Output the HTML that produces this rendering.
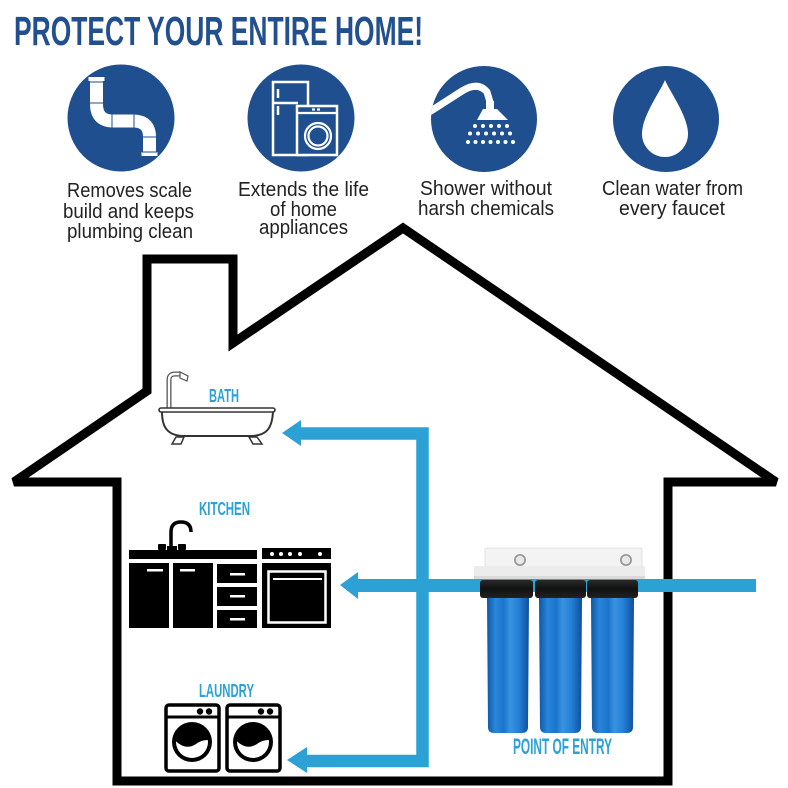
<!DOCTYPE html>
<html><head><meta charset="utf-8"><style>
html,body{margin:0;padding:0;background:#fff;}
svg{display:block;}
</style></head><body>
<svg width="788" height="788" viewBox="0 0 788 788" xmlns="http://www.w3.org/2000/svg">
<defs>
<linearGradient id="hous" x1="0" x2="1" y1="0" y2="0">
<stop offset="0" stop-color="#0d55a6"/>
<stop offset="0.2" stop-color="#2a86d9"/>
<stop offset="0.4" stop-color="#1b74cc"/>
<stop offset="0.55" stop-color="#3a93e0"/>
<stop offset="0.75" stop-color="#2580d6"/>
<stop offset="1" stop-color="#0c4f9e"/>
</linearGradient>
<linearGradient id="cap" x1="0" x2="0" y1="0" y2="1">
<stop offset="0" stop-color="#2a2a2a"/>
<stop offset="0.5" stop-color="#111"/>
<stop offset="1" stop-color="#222"/>
</linearGradient>
<clipPath id="c3"><circle cx="484" cy="119" r="53"/></clipPath>
<clipPath id="w1"><circle cx="192" cy="742" r="16"/></clipPath>
<clipPath id="w2"><circle cx="253" cy="742" r="16"/></clipPath>
</defs>
<rect width="788" height="788" fill="#fff"/>

<!-- Title -->
<text x="14" y="45" font-family="Liberation Sans, sans-serif" font-weight="bold" font-size="41" fill="#22508f" textLength="409" lengthAdjust="spacingAndGlyphs">PROTECT YOUR ENTIRE HOME!</text>

<!-- Icon circles -->
<circle cx="121" cy="118" r="53.5" fill="#1f4f8f"/>
<circle cx="301" cy="118" r="53.5" fill="#1f4f8f"/>
<circle cx="484" cy="119" r="53" fill="#1f4f8f"/>
<circle cx="666" cy="119" r="53" fill="#1f4f8f"/>

<!-- pipe icon -->
<path d="M96.5,78 L96.5,104 Q96.5,121 113,121 L133,121 Q149.5,121 149.5,137 L149.5,156" fill="none" stroke="#fff" stroke-width="13"/>
<rect x="88.5" y="77" width="16" height="4" fill="#fff"/>
<rect x="141.5" y="152" width="16" height="4" fill="#fff"/>
<g stroke="#1f4f8f" stroke-width="1">
<line x1="89" y1="82" x2="104" y2="82"/>
<line x1="89" y1="103" x2="104" y2="103"/>
<line x1="112" y1="114" x2="112" y2="128"/>
<line x1="134" y1="114" x2="134" y2="128"/>
<line x1="143" y1="137" x2="156" y2="137"/>
<line x1="142" y1="152" x2="157" y2="152"/>
</g>

<!-- fridge & washer icon -->
<g fill="none" stroke="#fff" stroke-width="2.5">
<rect x="273" y="82" width="35" height="73"/>
<line x1="273" y1="103" x2="298" y2="103"/>
<line x1="278" y1="89" x2="278" y2="98"/>
<line x1="278" y1="106" x2="278" y2="115"/>
</g>
<rect x="297" y="106" width="40" height="49" fill="#1f4f8f" stroke="#fff" stroke-width="2.5"/>
<g fill="none" stroke="#fff" stroke-width="2.2">
<line x1="297" y1="113" x2="337" y2="113"/>
<line x1="312" y1="109.5" x2="315" y2="109.5"/>
<line x1="317" y1="109.5" x2="320" y2="109.5"/>
<circle cx="318" cy="136" r="13"/>
<circle cx="318" cy="136" r="9.5"/>
</g>

<!-- shower icon -->
<g clip-path="url(#c3)">
<path d="M420,118 L462,91 Q478,81 487,92 L490,102" fill="none" stroke="#fff" stroke-width="7" stroke-linecap="round"/>
</g>
<rect x="486" y="101" width="8" height="9" fill="#fff"/>
<polygon points="483,109 497,109 508,120 477,120" fill="#fff"/>
<g fill="#fff">
<circle cx="475" cy="126" r="2"/><circle cx="483" cy="126" r="2"/><circle cx="491" cy="126" r="2"/><circle cx="499" cy="126" r="2"/><circle cx="507" cy="126" r="2"/>
<circle cx="470" cy="133.5" r="2"/><circle cx="478" cy="133.5" r="2"/><circle cx="486" cy="133.5" r="2"/><circle cx="494" cy="133.5" r="2"/><circle cx="502" cy="133.5" r="2"/><circle cx="510" cy="133.5" r="2"/>
<circle cx="468" cy="142" r="2"/><circle cx="475.5" cy="142" r="2"/><circle cx="483" cy="142" r="2"/><circle cx="490.5" cy="142" r="2"/><circle cx="498" cy="142" r="2"/><circle cx="505.5" cy="142" r="2"/><circle cx="513" cy="142" r="2"/>
</g>

<!-- drop icon -->
<path d="M665,80 C660,92 642,116 642,134 A23,23 0 0 0 688,134 C688,116 670,92 665,80 Z" fill="#fff"/>

<!-- icon captions -->
<g font-family="Liberation Sans, sans-serif" font-size="20" fill="#222">
<text x="67" y="197" textLength="125" lengthAdjust="spacingAndGlyphs">Removes scale</text>
<text x="63" y="218" textLength="131" lengthAdjust="spacingAndGlyphs">build and keeps</text>
<text x="67" y="238" textLength="126" lengthAdjust="spacingAndGlyphs">plumbing clean</text>
<text x="238" y="196" textLength="131" lengthAdjust="spacingAndGlyphs">Extends the life</text>
<text x="270" y="216" textLength="67" lengthAdjust="spacingAndGlyphs">of home</text>
<text x="259" y="234" textLength="89" lengthAdjust="spacingAndGlyphs">appliances</text>
<text x="420" y="195" textLength="132" lengthAdjust="spacingAndGlyphs">Shower without</text>
<text x="418" y="215" textLength="136" lengthAdjust="spacingAndGlyphs">harsh chemicals</text>
<text x="602" y="195" textLength="141" lengthAdjust="spacingAndGlyphs">Clean water from</text>
<text x="619" y="215" textLength="106" lengthAdjust="spacingAndGlyphs">every faucet</text>
</g>

<!-- House outline -->
<path d="M117,781 L117,482 L14,482 L147,391 L147,259 L233,259 L233,343 L403,228 L776,482 L668,482 L668,781 Z" fill="none" stroke="#000" stroke-width="9" stroke-linejoin="miter" stroke-miterlimit="3"/>

<!-- Blue arrows -->
<path d="M299,433.5 L422.5,433.5 L422.5,761 L305,761" fill="none" stroke="#2ba1d6" stroke-width="12.5" stroke-linejoin="miter"/>
<polygon points="282,433 301,420 301,446" fill="#2ba1d6"/>
<polygon points="287,760 307,747 307,773" fill="#2ba1d6"/>
<line x1="356" y1="585.5" x2="756" y2="585.5" stroke="#2ba1d6" stroke-width="13"/>
<polygon points="340,585 358,572 358,599" fill="#2ba1d6"/>

<!-- Bath -->
<path d="M169,409 L169,380 Q169,374 175,374 L181,374" fill="none" stroke="#555" stroke-width="5"/>
<path d="M169,409 L169,380 Q169,374 175,374 L181,374" fill="none" stroke="#fff" stroke-width="2.4"/>
<polygon points="180,372 188,376 187,381 180,378" fill="#fff" stroke="#555" stroke-width="1.2"/>
<path d="M162,412 C162,428 168,436 185,436 L250,436 C267,436 272,428 273,412" fill="#fff" stroke="#333" stroke-width="2"/>
<rect x="159" y="408" width="116" height="4" rx="2" fill="#fff" stroke="#333" stroke-width="1.6"/>
<path d="M176,437 L184,437 L181,444 L172,444 Z" fill="#fff" stroke="#333" stroke-width="1.5"/>
<path d="M249,437 L257,437 L262,444 L253,444 Z" fill="#fff" stroke="#333" stroke-width="1.5"/>

<!-- Labels -->
<g font-family="Liberation Sans, sans-serif" font-weight="bold" font-size="18" fill="#2ba1d6">
<text x="209" y="402" textLength="30" lengthAdjust="spacingAndGlyphs">BATH</text>
<text x="199" y="515" textLength="51" lengthAdjust="spacingAndGlyphs">KITCHEN</text>
<text x="199" y="697" textLength="55" lengthAdjust="spacingAndGlyphs">LAUNDRY</text>
<text x="513" y="754" font-size="22" textLength="99" lengthAdjust="spacingAndGlyphs">POINT OF ENTRY</text>
</g>

<!-- Kitchen -->
<g fill="#000">
<path d="M171,548 L171,532 Q171,522 181,522 Q191,522 191,532" fill="none" stroke="#000" stroke-width="3.5"/>
<rect x="158" y="544" width="8" height="6" rx="1"/>
<rect x="178" y="544" width="8" height="6" rx="1"/>
<rect x="167" y="546" width="10" height="4"/>
<rect x="129" y="550" width="128" height="9"/>
<rect x="262" y="548" width="69" height="11"/>
<rect x="129" y="563" width="40" height="65"/>
<rect x="173" y="563" width="40" height="65"/>
<rect x="217" y="564" width="40" height="19"/>
<rect x="217" y="587" width="40" height="19"/>
<rect x="217" y="610" width="40" height="18"/>
<rect x="262" y="563" width="69" height="65"/>
</g>
<g fill="#fff">
<circle cx="272" cy="554" r="2"/><circle cx="281" cy="554" r="2"/><circle cx="290" cy="554" r="2"/><circle cx="300" cy="554" r="2"/><circle cx="320" cy="554" r="2"/>
<rect x="147" y="569" width="16" height="2.5"/>
<rect x="180" y="569" width="15" height="2.5"/>
<rect x="230" y="573" width="15" height="2.5"/>
<rect x="230" y="595" width="15" height="2.5"/>
<rect x="230" y="618" width="15" height="2.5"/>
<rect x="273" y="578" width="49" height="2"/>
</g>
<rect x="268.5" y="571.5" width="57" height="51" fill="none" stroke="#fff" stroke-width="2.5"/>

<!-- Laundry -->
<g>
<rect x="166" y="705" width="53" height="66" rx="3" fill="#fff" stroke="#000" stroke-width="3.5"/>
<line x1="166" y1="717" x2="219" y2="717" stroke="#000" stroke-width="3"/>
<circle cx="200" cy="711.5" r="3.2" fill="#000"/><circle cx="209" cy="711.5" r="3.2" fill="#000"/>
<circle cx="192" cy="742" r="20" fill="#000"/>
<path clip-path="url(#w1)" d="M172,737 Q184,752 196,744 Q204,738 214,741 L214,762 L172,762 Z" fill="#fff"/>
</g>
<g>
<rect x="227" y="705" width="53" height="66" rx="3" fill="#fff" stroke="#000" stroke-width="3.5"/>
<line x1="227" y1="717" x2="280" y2="717" stroke="#000" stroke-width="3"/>
<circle cx="261" cy="711.5" r="3.2" fill="#000"/><circle cx="270" cy="711.5" r="3.2" fill="#000"/>
<circle cx="253" cy="742" r="20" fill="#000"/>
<path clip-path="url(#w2)" d="M233,737 Q245,752 257,744 Q265,738 275,741 L275,762 L233,762 Z" fill="#fff"/>
</g>

<!-- Filter -->
<rect x="485" y="548" width="157" height="20" rx="2" fill="#f3f3f3" stroke="#e2e2e2" stroke-width="1"/>
<rect x="474" y="566" width="171" height="13" fill="#ececec"/>
<rect x="474" y="576" width="171" height="3" fill="#dadada"/>
<circle cx="520" cy="560" r="6" fill="#9a9a9a"/><circle cx="520" cy="560" r="4.2" fill="#e8e8e8"/>
<circle cx="626" cy="560" r="6" fill="#9a9a9a"/><circle cx="626" cy="560" r="4.2" fill="#e8e8e8"/>

<path d="M487,598 L529,598 L528,727 Q528,733 522,733 L494,733 Q488,733 488,727 Z" fill="url(#hous)"/>
<path d="M539,598 L582,598 L581,727 Q581,733 575,733 L546,733 Q540,733 540,727 Z" fill="url(#hous)"/>
<path d="M591,598 L634,598 L633,727 Q633,733 627,733 L598,733 Q592,733 592,727 Z" fill="url(#hous)"/>
<rect x="480" y="580" width="53" height="18" rx="3" fill="url(#cap)"/>
<rect x="535" y="580" width="51" height="18" rx="3" fill="url(#cap)"/>
<rect x="587" y="580" width="51" height="18" rx="3" fill="url(#cap)"/>
</svg>
</body></html>
